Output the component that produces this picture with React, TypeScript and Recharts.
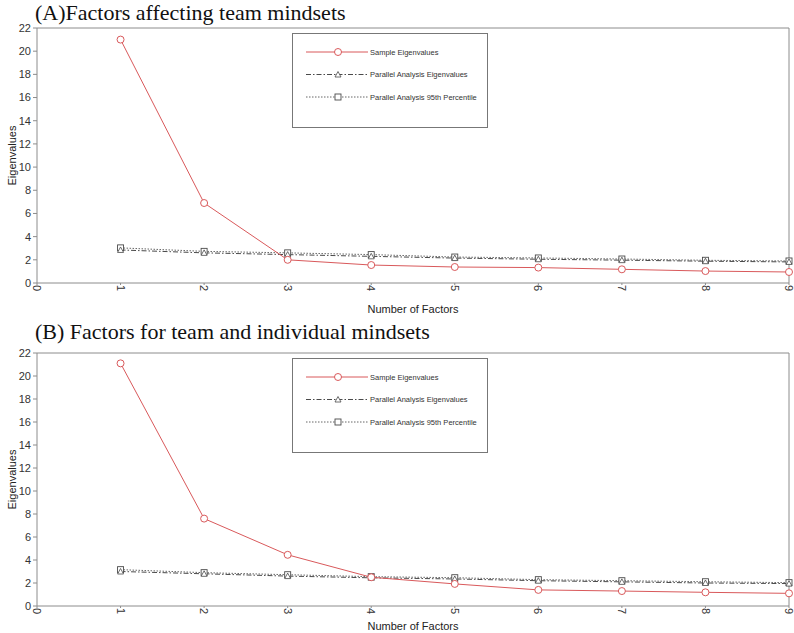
import { Line, LineChart, ReferenceLine, XAxis, YAxis } from 'recharts'

const factors = [1, 2, 3, 4, 5, 6, 7, 8, 9]
const xTicks = [0, 1, 2, 3, 4, 5, 6, 7, 8, 9]
const yTicks = [0, 2, 4, 6, 8, 10, 12, 14, 16, 18, 20, 22]

// (A) team mindsets
const sampleA = [21.0, 6.9, 2.0, 1.55, 1.38, 1.33, 1.18, 1.03, 0.95]
const parallelA = [2.85, 2.6, 2.45, 2.3, 2.15, 2.05, 1.97, 1.88, 1.82]
const pct95A = [3.03, 2.73, 2.6, 2.45, 2.24, 2.16, 2.07, 1.96, 1.9]

// (B) team and individual mindsets
const sampleB = [21.1, 7.6, 4.45, 2.5, 1.92, 1.4, 1.3, 1.19, 1.1]
const parallelB = [3.0, 2.8, 2.6, 2.45, 2.35, 2.2, 2.1, 2.0, 1.95]
const pct95B = [3.16, 2.9, 2.72, 2.55, 2.46, 2.29, 2.2, 2.11, 2.03]

const legendLabels = [
  'Sample Eigenvalues',
  'Parallel Analysis Eigenvalues',
  'Parallel Analysis 95th Percentile',
]

const RED = '#d9595b'
const GREY = '#4a4a4a'
const AXIS = '#8c8c8c'
const SANS = '"Liberation Sans", Arial, sans-serif'
const SERIF = '"Liberation Serif", "Times New Roman", serif'

const build = (s: number[], p: number[], q: number[]) =>
  factors.map((f, i) => ({ factor: f, sample: s[i], parallel: p[i], pct95: q[i] }))

const CircleDot = (p: any) => (
  <circle key={`c${p.index}`} cx={p.cx} cy={p.cy} r={3.5} fill="#fff" stroke={RED} strokeWidth={1} />
)
const TriDot = (p: any) => (
  <path
    key={`t${p.index}`}
    d={`M${p.cx},${p.cy - 3} L${p.cx + 3},${p.cy + 2.5} L${p.cx - 3},${p.cy + 2.5} Z`}
    fill="#fff"
    stroke={GREY}
    strokeWidth={0.8}
  />
)
const SquareDot = (p: any) => (
  <rect key={`s${p.index}`} x={p.cx - 3} y={p.cy - 3} width={6} height={6} fill="#fff" stroke={GREY} strokeWidth={0.9} />
)

const RotTick = ({ x, y, payload }: any) => (
  <g transform={`translate(${x},${y})`}>
    <text transform="rotate(90)" x={0} y={0} dy="0.35em" textAnchor="start" fontSize={11} fill="#333" fontFamily={SANS}>
      {payload.value}
    </text>
  </g>
)

function LegendBox({ left, top }: { left: number; top: number }) {
  const rows = [
    { stroke: RED, dash: undefined, marker: 'circle' },
    { stroke: GREY, dash: '5 2 1.5 2', marker: 'tri' },
    { stroke: '#666', dash: '1.5 1.5', marker: 'square' },
  ]
  return (
    <div
      style={{
        position: 'absolute',
        left,
        top,
        width: 194,
        height: 93,
        border: '1px solid #777',
        background: '#fff',
      }}
    >
      <svg width={194} height={93} style={{ position: 'absolute', left: 0, top: 0 }}>
        {rows.map((r, i) => {
          const y = 18 + i * 22.5
          return (
            <g key={i}>
              <line x1={13} x2={75} y1={y} y2={y} stroke={r.stroke} strokeDasharray={r.dash} strokeWidth={1} />
              {r.marker === 'circle' && <circle cx={45} cy={y} r={3.5} fill="#fff" stroke={RED} />}
              {r.marker === 'tri' && (
                <path d={`M45,${y - 3} L48,${y + 2.5} L42,${y + 2.5} Z`} fill="#fff" stroke={GREY} strokeWidth={0.8} />
              )}
              {r.marker === 'square' && <rect x={42} y={y - 3} width={6} height={6} fill="#fff" stroke={GREY} strokeWidth={0.9} />}
              <text x={77} y={y} dy="0.35em" fontSize={7.5} fill="#333" fontFamily={SANS}>
                {legendLabels[i]}
              </text>
            </g>
          )
        })}
      </svg>
    </div>
  )
}

interface PanelProps {
  title: string
  data: ReturnType<typeof build>
  top: number
  height: number
  xAxisHeight: number
  labelOffset: number
  titleTop: number
}

function Panel({ title, data, top, height, xAxisHeight, labelOffset, titleTop }: PanelProps) {
  return (
    <>
      <div
        style={{
          position: 'absolute',
          left: 35,
          top: titleTop,
          fontFamily: SERIF,
          fontSize: 22,
          lineHeight: '24px',
          whiteSpace: 'nowrap',
          color: '#111',
        }}
      >
        {title}
      </div>
      <div style={{ position: 'absolute', left: 0, top }}>
        <LineChart width={794} height={height} data={data} margin={{ top: 28, right: 5, left: 0, bottom: 0 }}>
          <XAxis
            type="number"
            dataKey="factor"
            domain={[0, 9]}
            ticks={xTicks}
            interval={0}
            stroke={AXIS}
            tickSize={2}
            tickMargin={0}
            height={xAxisHeight}
            tick={<RotTick />}
            label={{
              value: 'Number of Factors',
              position: 'insideBottom',
              offset: labelOffset,
              style: { fontSize: 11, fill: '#222', fontFamily: SANS },
            }}
          />
          <YAxis
            type="number"
            domain={[0, 22]}
            ticks={yTicks}
            interval={0}
            width={37}
            stroke={AXIS}
            tickSize={4}
            tickMargin={2}
            tick={{ fontSize: 11, fill: '#333', fontFamily: SANS }}
            label={{
              value: 'Eigenvalues',
              angle: -90,
              position: 'insideLeft',
              offset: 12,
              style: { fontSize: 11, fill: '#222', fontFamily: SANS, textAnchor: 'middle' },
            }}
          />
          <ReferenceLine y={22} stroke={AXIS} />
          <ReferenceLine x={9} stroke={AXIS} />
          <Line
            type="linear"
            dataKey="pct95"
            stroke="#666"
            strokeDasharray="1.5 1.5"
            strokeWidth={1}
            dot={SquareDot}
            isAnimationActive={false}
          />
          <Line
            type="linear"
            dataKey="parallel"
            stroke={GREY}
            strokeDasharray="5 2 1.5 2"
            strokeWidth={1}
            dot={TriDot}
            isAnimationActive={false}
          />
          <Line
            type="linear"
            dataKey="sample"
            stroke={RED}
            strokeWidth={1}
            dot={CircleDot}
            isAnimationActive={false}
          />
        </LineChart>
      </div>
      <LegendBox left={292} top={top + 33} />
    </>
  )
}

export default function App() {
  return (
    <div style={{ position: 'absolute', left: 0, top: 0, width: 794, height: 633, background: '#fff' }}>
      <Panel
        title="(A)Factors affecting team mindsets"
        data={build(sampleA, parallelA, pct95A)}
        top={0}
        height={320}
        xAxisHeight={37}
        labelOffset={7}
        titleTop={1}
      />
      <Panel
        title="(B) Factors for team and individual mindsets"
        data={build(sampleB, parallelB, pct95B)}
        top={325}
        height={308}
        xAxisHeight={27}
        labelOffset={3}
        titleTop={320}
      />
    </div>
  )
}
